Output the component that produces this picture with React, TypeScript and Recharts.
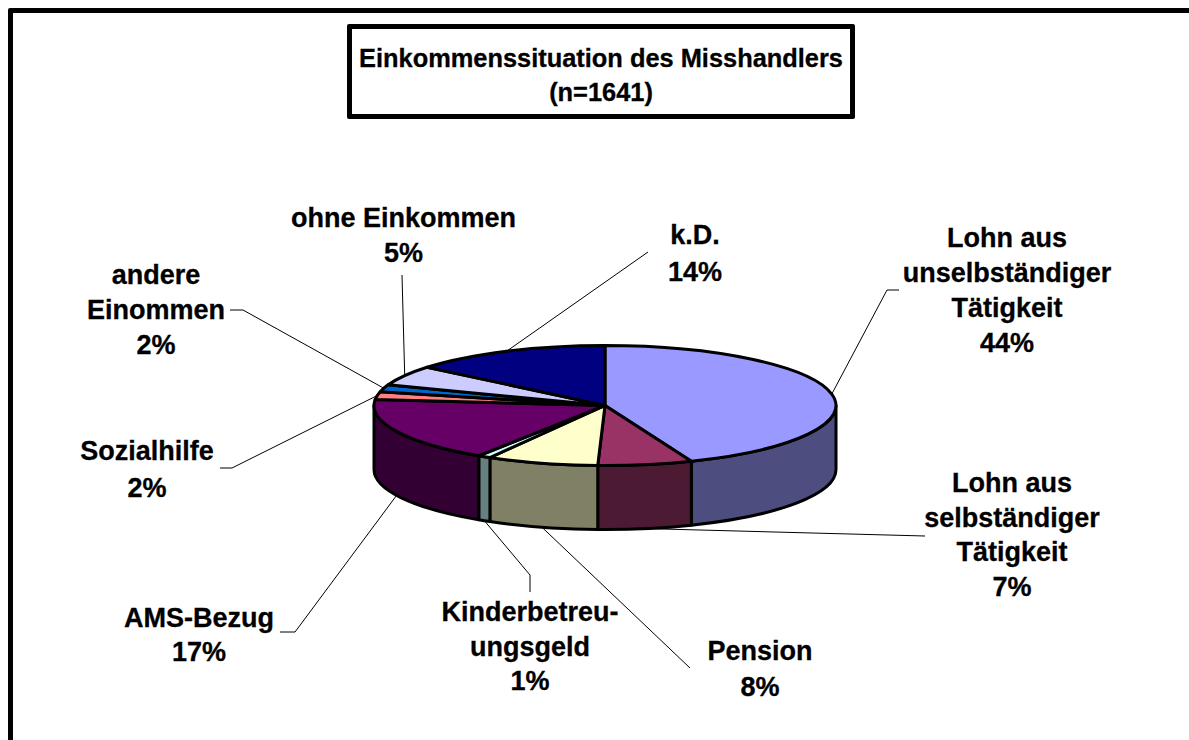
import React from 'react';
import { Pie, PieChart } from 'recharts';

const categories = [
  ['Lohn aus', 'unselbständiger', 'Tätigkeit'],
  ['Lohn aus', 'selbständiger', 'Tätigkeit'],
  ['Pension'],
  ['Kinderbetreu-', 'ungsgeld'],
  ['AMS-Bezug'],
  ['Sozialhilfe'],
  ['andere', 'Einommen'],
  ['ohne Einkommen'],
  ['k.D.'],
];
const values = [43.9, 6.6, 7.8, 0.9, 17.4, 2.1, 1.9, 5.4, 14.0];
const topColors = ['#9999FF', '#993366', '#FFFFCC', '#CCFFFF', '#660066', '#FF8080', '#0066CC', '#CCCCFF', '#000080'];
const sideColors = ['#4D4D80', '#4D1A33', '#808066', '#668080', '#330033', '#804040', '#003366', '#666680', '#000040'];

// label anchors: centre x and first baseline, then the elbow of each leader line
const labelX = [1007, 1012, 760, 530, 199, 147, 156, 403.5, 695];
const labelY = [247, 492, 660, 621, 627, 460, 284, 227, 244];
const lineHeights = [35, 34.5, 36, 34.5, 34, 37, 35, 35, 37];
const leaders: number[][][] = [
  [[899, 290], [887, 290]],
  [[925, 536]],
  [[690, 668]],
  [[530, 592], [530, 575]],
  [[280, 632], [295, 632]],
  [[220, 468], [232, 468]],
  [[230, 310], [243, 310]],
  [[402, 275]],
  [[648, 252]],
];

const tableData = values.map((value, i) => ({
  name: categories[i].join(' '),
  value,
  fill: topColors[i],
  sideFill: sideColors[i],
}));

const CX = 605;
const CY = 405.5;
const RADIUS = 231;
const SQUASH = 60 / 231;
const DEPTH = 64;
const FONT = '"Liberation Sans", Arial, sans-serif';

const rad = (deg: number) => (deg * Math.PI) / 180;
const px = (cx: number, r: number, a: number) => cx + r * Math.cos(rad(a));
const py = (cy: number, r: number, a: number) => cy - r * SQUASH * Math.sin(rad(a));

// flattened top face of a slice
const TopSlice = (props: any) => {
  const { cx, cy, outerRadius: r, startAngle, endAngle, fill } = props;
  const large = Math.abs(startAngle - endAngle) > 180 ? 1 : 0;
  const d = `M${cx},${cy} L${px(cx, r, startAngle)},${py(cy, r, startAngle)} A${r},${r * SQUASH} 0 ${large} 1 ${px(cx, r, endAngle)},${py(cy, r, endAngle)} Z`;
  return <path d={d} fill={fill} stroke="#000" strokeWidth={3} strokeLinejoin="round" />;
};

// front wall of a slice, only the part that faces the viewer
const WallSlice = (props: any) => {
  const { cx, cy, outerRadius: r, startAngle, endAngle } = props;
  const a1 = Math.min(startAngle, 0);
  const a2 = Math.max(endAngle, -180);
  if (a1 <= a2) return null;
  const sideFill = props.sideFill ?? props.payload?.sideFill;
  const ry = r * SQUASH;
  const d = `M${px(cx, r, a1)},${py(cy, r, a1)} A${r},${ry} 0 0 1 ${px(cx, r, a2)},${py(cy, r, a2)} L${px(cx, r, a2)},${py(cy, r, a2) + DEPTH} A${r},${ry} 0 0 0 ${px(cx, r, a1)},${py(cy, r, a1) + DEPTH} Z`;
  return <path d={d} fill={sideFill} stroke="#000" strokeWidth={3} strokeLinejoin="round" />;
};

const SliceLabel = (props: any) => {
  const { cx, cy, outerRadius: r, midAngle, index } = props;
  const front = Math.sin(rad(midAngle)) < 0;
  const ex = px(cx, r, midAngle);
  const ey = py(cy, r, midAngle) + (front ? DEPTH : 0);
  const pts = [...leaders[index], [ex, ey]].map((p) => p.join(',')).join(' ');
  const lines = [...categories[index], `${Math.round(values[index])}%`];
  return (
    <g>
      <polyline points={pts} fill="none" stroke="#000" strokeWidth={1} />
      <text textAnchor="middle" fontFamily={FONT} fontWeight="bold" fontSize={27} fill="#000" stroke="#000" strokeWidth={0.3}>
        {lines.map((line, i) => (
          <tspan key={i} x={labelX[index]} y={labelY[index] + i * lineHeights[index]}>
            {line}
          </tspan>
        ))}
      </text>
    </g>
  );
};

const App = () => {
  return (
    <div style={{ position: 'absolute', left: 0, top: 0, width: 1189, height: 740, overflow: 'hidden', background: '#fff' }}>
      <div style={{ position: 'absolute', left: 8, top: 8, width: 1300, height: 900, border: '5px solid #000', borderRadius: 2 }} />
      <div
        style={{
          position: 'absolute',
          left: 347,
          top: 24,
          width: 498,
          height: 85,
          border: '5px solid #000',
          borderRadius: 2,
          fontFamily: FONT,
          fontWeight: 'bold',
          fontSize: 25.4,
          lineHeight: '34px',
          textAlign: 'center',
          WebkitTextStroke: '0.3px #000',
        }}
      >
        <div style={{ marginTop: 12 }}>Einkommenssituation des Misshandlers</div>
        <div>(n=1641)</div>
      </div>
      <div style={{ position: 'absolute', left: 0, top: 0 }}>
        <PieChart width={1189} height={740} margin={{ top: 0, right: 0, bottom: 0, left: 0 }}>
          <Pie
            data={tableData}
            dataKey="value"
            cx={CX}
            cy={CY}
            outerRadius={RADIUS}
            startAngle={90}
            endAngle={-270}
            stroke="none"
            shape={WallSlice}
            isAnimationActive={false}
          />
          <Pie
            data={tableData}
            dataKey="value"
            cx={CX}
            cy={CY}
            outerRadius={RADIUS}
            startAngle={90}
            endAngle={-270}
            shape={TopSlice}
            label={SliceLabel}
            labelLine={false}
            isAnimationActive={false}
          />
        </PieChart>
      </div>
    </div>
  );
};

export default App;
